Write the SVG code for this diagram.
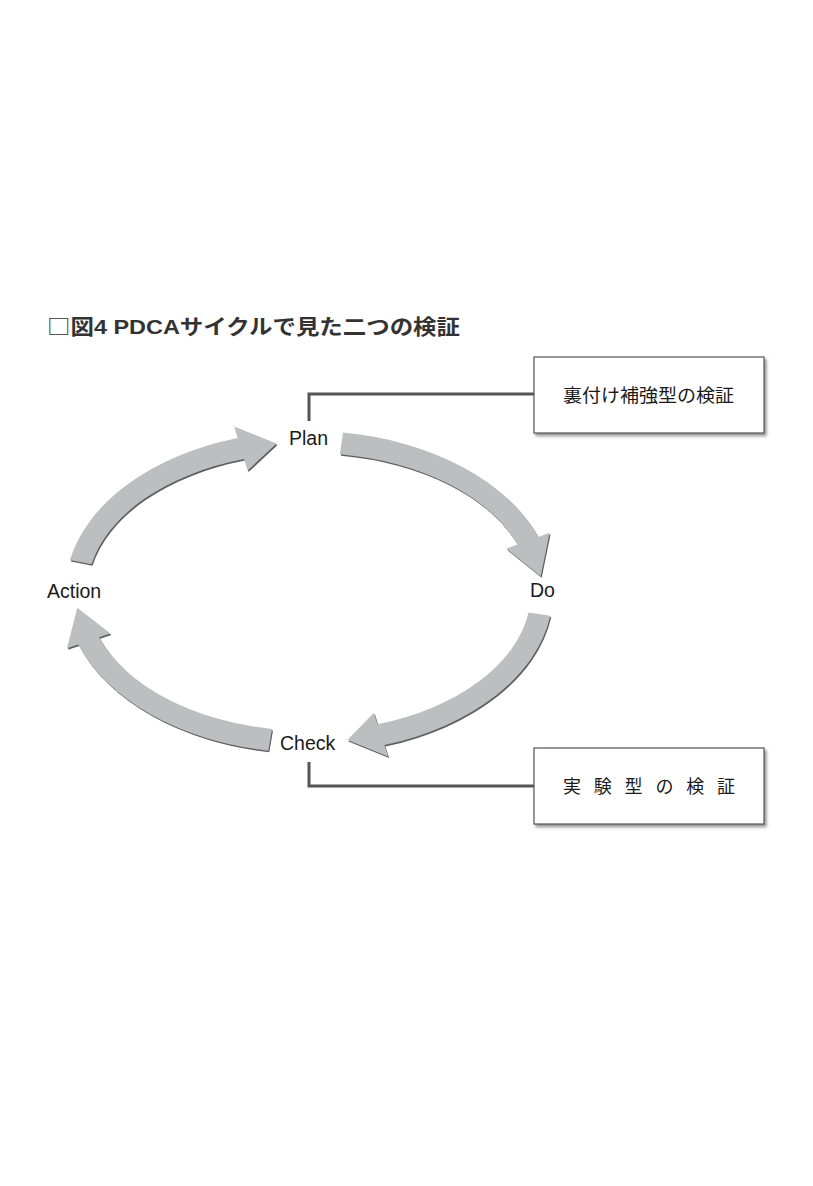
<svg xmlns="http://www.w3.org/2000/svg" width="813" height="1186" viewBox="0 0 813 1186">
<style>
.title{font-family:"Liberation Sans","Noto Sans CJK JP",sans-serif;font-weight:bold;font-size:21px;fill:#333}
.cjk{font-family:"Noto Sans CJK JP",sans-serif}
.lbl{font-family:"Liberation Sans",Arial,sans-serif;font-size:19.5px;fill:#1a1a1a}
.box{fill:#fff;stroke:#555;stroke-width:1.2}
.boxtxt{font-family:"Noto Sans CJK JP",sans-serif;font-size:18px;fill:#1a1a1a}
.conn{fill:none;stroke:#555;stroke-width:3}
.arr{fill:#bdbec0}
.arrsh{fill:#5f5f5f}
</style>
<defs>
<filter id="sh" x="-10%" y="-10%" width="130%" height="140%">
<feDropShadow dx="2" dy="2.5" stdDeviation="1.5" flood-color="#777" flood-opacity="0.8"/>
</filter>
<path id="a1" d="M69.9,559.9 A244,161 0 0 1 237.7,438.0 L234.2,426.6 L276.6,443.5 L247.6,470.6 L244.1,459.1 A222,139 0 0 0 91.5,564.3 Z"/>
<path id="a2" d="M343.0,432.6 A244,161 0 0 1 538.3,536.9 L549.6,532.8 L540.7,576.3 L506.3,548.6 L517.6,544.5 A222,139 0 0 0 339.9,454.3 Z"/>
<path id="a3" d="M550.3,615.8 A244,161 0 0 1 384.4,745.1 L388.1,756.5 L347.4,739.9 L373.9,712.8 L377.6,724.2 A222,139 0 0 0 528.6,612.5 Z"/>
<path id="a4" d="M268.3,750.7 A244,161 0 0 1 78.3,644.4 L67.0,648.3 L77.3,607.7 L110.4,633.4 L99.1,637.3 A222,139 0 0 0 272.0,729.0 Z"/>
</defs>
<rect width="813" height="1186" fill="#fff"/>
<text id="title" class="title" x="47" y="334" textLength="413" lengthAdjust="spacingAndGlyphs"><tspan class="cjk" font-weight="normal">□</tspan>図4  PDCAサイクルで見た二つの検証</text>
<g id="connectors">
<path class="conn" d="M309,421 V394 H534"/>
<path class="conn" d="M309,762 V786 H534"/>
<g id="arrow-plan-do"><use href="#a2" class="arrsh" transform="translate(1,1.5)"/><use href="#a2" class="arr"/></g>
<g id="arrow-do-check"><use href="#a3" class="arrsh" transform="translate(1,1.5)"/><use href="#a3" class="arr"/></g>
<g id="arrow-check-action"><use href="#a4" class="arrsh" transform="translate(1,1.5)"/><use href="#a4" class="arr"/></g>
<g id="arrow-action-plan"><use href="#a1" class="arrsh" transform="translate(1,1.5)"/><use href="#a1" class="arr"/></g>
</g>
<g id="plan"><text class="lbl" x="289" y="445">Plan</text></g>
<g id="do"><text class="lbl" x="530" y="597">Do</text></g>
<g id="check"><text class="lbl" x="280" y="750">Check</text></g>
<g id="action"><text class="lbl" x="47" y="598">Action</text></g>
<g id="box-support">
<rect class="box" x="534" y="357" width="230" height="76" filter="url(#sh)"/>
<text class="boxtxt" x="563" y="402" textLength="171" lengthAdjust="spacingAndGlyphs">裏付け補強型の検証</text>
</g>
<g id="box-experiment">
<rect class="box" x="534" y="748" width="230" height="76" filter="url(#sh)"/>
<text class="boxtxt" x="563" y="793" font-size="17" textLength="172" lengthAdjust="spacing">実 験 型 の 検 証</text>
</g>
</svg>
